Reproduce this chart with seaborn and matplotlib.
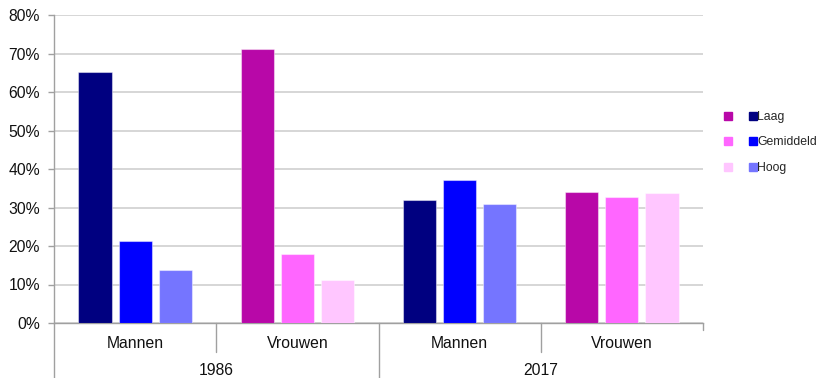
import matplotlib
matplotlib.use("Agg")
import matplotlib.pyplot as plt
import matplotlib.transforms as mtransforms
from matplotlib.lines import Line2D
from matplotlib.legend_handler import HandlerTuple
import seaborn as sns
import pandas as pd

# Share per education level, by year and sex (percent)
years = ["1986", "1986", "2017", "2017"]
sexes = ["Mannen", "Vrouwen", "Mannen", "Vrouwen"]
levels = ["Laag", "Gemiddeld", "Hoog"]
laag = [65.1, 71.2, 32.0, 34.0]
gemiddeld = [21.3, 17.9, 37.2, 32.7]
hoog = [13.7, 11.2, 30.9, 33.8]
y_ticks = [0, 10, 20, 30, 40, 50, 60, 70, 80]

men_colors = ["#000080", "#0000FF", "#7575FF"]
women_colors = ["#B808A8", "#FF66FF", "#FFC6FF"]

groups = [f"{y} {s}" for y, s in zip(years, sexes)]
rows = []
for i, g in enumerate(groups):
    for lev, vals in zip(levels, [laag, gemiddeld, hoog]):
        rows.append({"group": g, "sex": sexes[i], "level": lev, "value": vals[i]})
df = pd.DataFrame(rows)

sns.set_theme(style="white")
plt.rcParams["font.family"] = ["Liberation Sans", "DejaVu Sans"]

fig = plt.figure(figsize=(8.18, 3.78), dpi=100)
ax = fig.add_axes([54 / 818, 1 - 323 / 378, (703 - 54) / 818, (323 - 15) / 378])

for sex, pal in [("Mannen", men_colors), ("Vrouwen", women_colors)]:
    sns.barplot(data=df[df["sex"] == sex], x="group", y="value", hue="level",
                order=groups, hue_order=levels, palette=pal, saturation=1,
                width=0.74, gap=0.17, edgecolor=(1, 1, 1, 0.45), linewidth=0.8,
                legend=False, ax=ax, zorder=3)

ax.set_xlim(-0.5, 3.5)
ax.set_ylim(0, 80)
ax.set_yticks(y_ticks)
ax.set_yticklabels([f"{t}%" for t in y_ticks], fontsize=11.3, color="#111111")
ax.yaxis.grid(True, color="#D0D0D0", linewidth=1.2, zorder=0)
ax.tick_params(axis="y", length=4, width=1, color="#A0A0A0", pad=6, left=True)
ax.set_xticks([])
ax.set_xlabel("")
ax.set_ylabel("")
for side in ["top", "right"]:
    ax.spines[side].set_visible(False)
for side in ["left", "bottom"]:
    ax.spines[side].set_color("#A0A0A0")
    ax.spines[side].set_linewidth(1.0)

# Two-level category axis below the plot
trans = mtransforms.blended_transform_factory(ax.transData, ax.transAxes)
line_kw = dict(color="#A0A0A0", linewidth=1.0, transform=trans, clip_on=False)
ax.plot([-0.5, -0.5], [0, -0.2], **line_kw)
ax.plot([1.5, 1.5], [0, -0.2], **line_kw)
ax.plot([0.5, 0.5], [0, -0.095], **line_kw)
ax.plot([2.5, 2.5], [0, -0.095], **line_kw)
ax.plot([3.5, 3.5], [0, -0.022], **line_kw)

for i, s in enumerate(sexes):
    ax.text(i, -0.065, s, transform=trans, ha="center", va="center", fontsize=11.3, color="#111111")
for x, y in [(0.5, "1986"), (2.5, "2017")]:
    ax.text(x, -0.153, y, transform=trans, ha="center", va="center", fontsize=11.3, color="#111111")

# Legend: paired swatches (women, men) per level
handles = []
for wc, mc in zip(women_colors, men_colors):
    handles.append((Line2D([], [], linestyle="none", marker="s", markersize=5.2,
                           markerfacecolor=wc, markeredgecolor=wc),
                    Line2D([], [], linestyle="none", marker="s", markersize=5.2,
                           markerfacecolor=mc, markeredgecolor=mc)))
fig.legend(handles, levels, handler_map={tuple: HandlerTuple(ndivide=None, pad=0)},
           loc="upper left", bbox_to_anchor=(716 / 818, 1 - 111 / 378),
           frameon=False, fontsize=8.8, handlelength=4.0, handletextpad=-0.62,
           labelspacing=1.1, borderpad=0, borderaxespad=0)

fig.savefig("out.png", dpi=100)
